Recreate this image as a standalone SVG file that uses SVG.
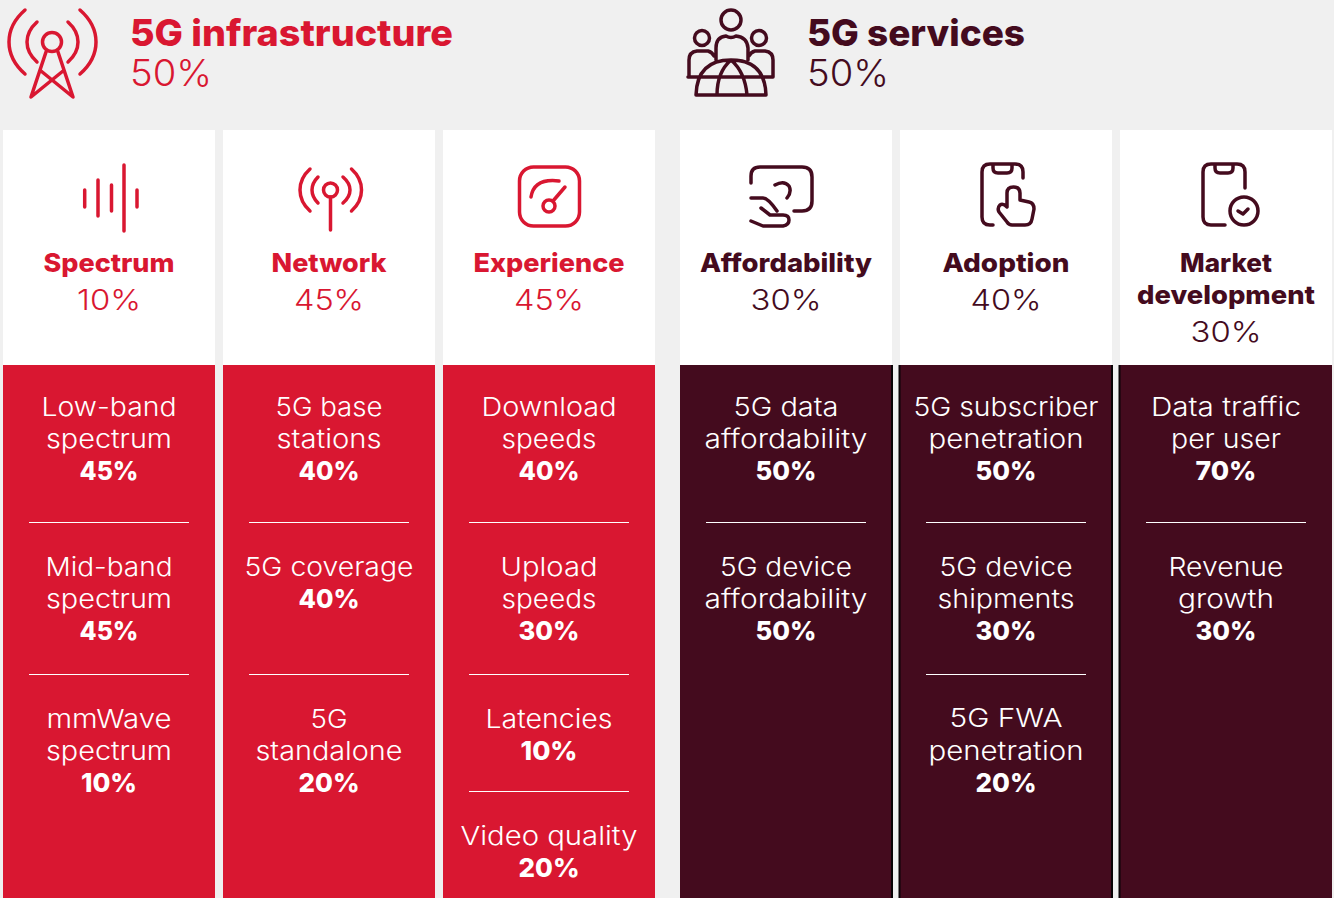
<svg xmlns="http://www.w3.org/2000/svg" width="1334" height="898" viewBox="0 0 1334 898">
<style>
text{font-family:"Inter","Liberation Sans",sans-serif;text-anchor:middle;font-size:26px;font-weight:300}
.b{font-weight:700}
.x{font-weight:800}
.r{fill:#D91731}.d{fill:#440B1E}.w{fill:#fff}
.head{font-size:37px;text-anchor:start}
.title{font-weight:800}
.pct{font-weight:300}
.p{font-size:29px;font-weight:300}
.ir{fill:none;stroke:#D91731;stroke-width:3.5;stroke-linecap:round;stroke-linejoin:round}
.id{fill:none;stroke:#440B1E;stroke-width:3.5;stroke-linecap:round;stroke-linejoin:round}
.rule{stroke:#fff;stroke-width:1}
.edge{fill:#0a0306}
</style>
<rect width="1334" height="898" fill="#F0F0F0"/>

<g id="infrastructure-header">
<path class="ir" d="M25 10Q9 24 9 42T25 74M80 10Q96 24 96 42T80 74M37 22Q27 31 27 42T37 62M68 22Q78 31 78 42T68 62M46 52L31 97L63 71M58 52L73 97L41 71"/>
<circle class="ir" cx="52" cy="42" r="9.5"/>
<text class="head r"><tspan class="title" x="130" y="46" textLength="323" lengthAdjust="spacingAndGlyphs">5G infrastructure</tspan><tspan class="pct" x="130" y="86" textLength="82" lengthAdjust="spacingAndGlyphs">50%</tspan></text>
</g>

<g id="services-header">
<circle class="id" cx="731" cy="20" r="10"/><circle class="id" cx="702" cy="38" r="7.5"/><circle class="id" cx="759" cy="38" r="7.5"/>
<path class="id" d="M716 60V48Q716 37 726 36Q731 39 736 36Q747 37 748 48V60M689 77V60Q689 52 697 51H708Q712 52 714 56M773 77V60Q773 52 765 51H755Q751 52 749 56M688 77H773M696 95Q697 60 731 60Q765 60 766 95ZM717 95Q717 72 731 60Q745 72 747 95"/>
<text class="head d"><tspan class="title" x="807" y="46" textLength="218" lengthAdjust="spacingAndGlyphs">5G services</tspan><tspan class="pct" x="807" y="86" textLength="82" lengthAdjust="spacingAndGlyphs">50%</tspan></text>
</g>

<g id="spectrum">
<rect class="w" x="3" y="130" width="212" height="235"/><rect class="r" x="3" y="365" width="212" height="533"/>
<path class="ir" d="M84.700 190V207M98 180V216M111.500 185V211M124 165V231M137 190V207"/>
<text class="x r" x="109" y="272" textLength="131" lengthAdjust="spacingAndGlyphs">Spectrum</text>
<text class="p r" x="109" y="310" textLength="64" lengthAdjust="spacingAndGlyphs">10%</text>
<text class="w" x="109" y="416" textLength="135" lengthAdjust="spacingAndGlyphs">Low-band</text>
<text class="w" x="109" y="448" textLength="126" lengthAdjust="spacingAndGlyphs">spectrum</text>
<text class="w x" x="109" y="480" textLength="59" lengthAdjust="spacingAndGlyphs">45%</text>
<line class="rule" x1="29" x2="189" y1="522.500" y2="522.500"/>
<text class="w" x="109" y="576" textLength="127" lengthAdjust="spacingAndGlyphs">Mid-band</text>
<text class="w" x="109" y="608" textLength="126" lengthAdjust="spacingAndGlyphs">spectrum</text>
<text class="w x" x="109" y="640" textLength="59" lengthAdjust="spacingAndGlyphs">45%</text>
<line class="rule" x1="29" x2="189" y1="674.500" y2="674.500"/>
<text class="w" x="109" y="728" textLength="125" lengthAdjust="spacingAndGlyphs">mmWave</text>
<text class="w" x="109" y="760" textLength="126" lengthAdjust="spacingAndGlyphs">spectrum</text>
<text class="w x" x="109" y="792" textLength="56" lengthAdjust="spacingAndGlyphs">10%</text>
</g>

<g id="network">
<rect class="w" x="223" y="130" width="212" height="235"/><rect class="r" x="223" y="365" width="212" height="533"/>
<circle class="ir" cx="330.500" cy="190" r="7"/>
<path class="ir" d="M330.500 197V230M318 177Q312 183 312 190T318 203M343 177Q350 183 350 190T343 203M310 169Q300 178 300 190T310 211M351.500 169Q361.500 178 361.500 190T351.500 211"/>
<text class="x r" x="329" y="272" textLength="115" lengthAdjust="spacingAndGlyphs">Network</text>
<text class="p r" x="329" y="310" textLength="70" lengthAdjust="spacingAndGlyphs">45%</text>
<text class="w" x="329" y="416" textLength="107" lengthAdjust="spacingAndGlyphs">5G base</text>
<text class="w" x="329" y="448" textLength="105" lengthAdjust="spacingAndGlyphs">stations</text>
<text class="w x" x="329" y="480" textLength="61" lengthAdjust="spacingAndGlyphs">40%</text>
<line class="rule" x1="249" x2="409" y1="522.500" y2="522.500"/>
<text class="w" x="329" y="576" textLength="169" lengthAdjust="spacingAndGlyphs">5G coverage</text>
<text class="w x" x="329" y="608" textLength="61" lengthAdjust="spacingAndGlyphs">40%</text>
<line class="rule" x1="249" x2="409" y1="674.500" y2="674.500"/>
<text class="w" x="329" y="728" textLength="37" lengthAdjust="spacingAndGlyphs">5G</text>
<text class="w" x="329" y="760" textLength="147" lengthAdjust="spacingAndGlyphs">standalone</text>
<text class="w x" x="329" y="792" textLength="61" lengthAdjust="spacingAndGlyphs">20%</text>
</g>

<g id="experience">
<rect class="w" x="443" y="130" width="212" height="235"/><rect class="r" x="443" y="365" width="212" height="533"/>
<rect class="ir" x="519.500" y="167" width="60" height="59" rx="14"/>
<circle class="ir" cx="549" cy="206" r="6"/>
<path class="ir" d="M553 201L565 187M531 197Q534 178 559 181"/>
<text class="x r" x="549" y="272" textLength="151" lengthAdjust="spacingAndGlyphs">Experience</text>
<text class="p r" x="549" y="310" textLength="70" lengthAdjust="spacingAndGlyphs">45%</text>
<text class="w" x="549" y="416" textLength="135" lengthAdjust="spacingAndGlyphs">Download</text>
<text class="w" x="549" y="448" textLength="95" lengthAdjust="spacingAndGlyphs">speeds</text>
<text class="w x" x="549" y="480" textLength="61" lengthAdjust="spacingAndGlyphs">40%</text>
<line class="rule" x1="469" x2="629" y1="522.500" y2="522.500"/>
<text class="w" x="549" y="576" textLength="97" lengthAdjust="spacingAndGlyphs">Upload</text>
<text class="w" x="549" y="608" textLength="95" lengthAdjust="spacingAndGlyphs">speeds</text>
<text class="w x" x="549" y="640" textLength="61" lengthAdjust="spacingAndGlyphs">30%</text>
<line class="rule" x1="469" x2="629" y1="674.500" y2="674.500"/>
<text class="w" x="549" y="728" textLength="127" lengthAdjust="spacingAndGlyphs">Latencies</text>
<text class="w x" x="549" y="760" textLength="57" lengthAdjust="spacingAndGlyphs">10%</text>
<line class="rule" x1="469" x2="629" y1="791.500" y2="791.500"/>
<text class="w" x="549" y="845" textLength="177" lengthAdjust="spacingAndGlyphs">Video quality</text>
<text class="w x" x="549" y="877" textLength="61" lengthAdjust="spacingAndGlyphs">20%</text>
</g>

<g id="affordability">
<rect class="w" x="680" y="130" width="212" height="235"/><rect class="d" x="680" y="365" width="212" height="533"/><rect class="edge" x="891" y="365" width="2" height="533"/>
<path class="id" d="M751 183V176Q751 167 760 167H802Q812 167 812 177V201Q812 211 802 211H794M775 185Q784 180 789 186Q792 192 787 198M751 198H763Q768 198 777 211M761 208L770 215H783Q789 215 789 220T783 226H763L751 221"/>
<text class="x d" x="786" y="272" textLength="172" lengthAdjust="spacingAndGlyphs">Affordability</text>
<text class="p d" x="786" y="310" textLength="71" lengthAdjust="spacingAndGlyphs">30%</text>
<text class="w" x="786" y="416" textLength="105" lengthAdjust="spacingAndGlyphs">5G data</text>
<text class="w" x="786" y="448" textLength="163" lengthAdjust="spacingAndGlyphs">affordability</text>
<text class="w x" x="786" y="480" textLength="61" lengthAdjust="spacingAndGlyphs">50%</text>
<line class="rule" x1="706" x2="866" y1="522.500" y2="522.500"/>
<text class="w" x="786" y="576" textLength="132" lengthAdjust="spacingAndGlyphs">5G device</text>
<text class="w" x="786" y="608" textLength="163" lengthAdjust="spacingAndGlyphs">affordability</text>
<text class="w x" x="786" y="640" textLength="61" lengthAdjust="spacingAndGlyphs">50%</text>
</g>

<g id="adoption">
<rect class="w" x="900" y="130" width="212" height="235"/><rect class="d" x="899" y="365" width="213" height="533"/><rect class="edge" x="898.500" y="365" width="2" height="533"/><rect class="edge" x="1111" y="365" width="2" height="533"/>
<path class="id" d="M993 225H990Q982 225 982 217V172Q982 164 990 164H1015Q1023 164 1023 172V178M993 164V168Q993 173 998 173H1007Q1012 173 1012 168V164M1007 207V193Q1007 187 1013.500 187Q1020 187 1020 193V200L1029 202Q1034 203 1034 209L1032 219Q1031 225 1025 225H1012Q1009 225 1007 222L999 212Q997 208 1000 205Q1003 203 1007 207"/>
<text class="x d" x="1006" y="272" textLength="127" lengthAdjust="spacingAndGlyphs">Adoption</text>
<text class="p d" x="1006" y="310" textLength="71" lengthAdjust="spacingAndGlyphs">40%</text>
<text class="w" x="1006" y="416" textLength="185" lengthAdjust="spacingAndGlyphs">5G subscriber</text>
<text class="w" x="1006" y="448" textLength="155" lengthAdjust="spacingAndGlyphs">penetration</text>
<text class="w x" x="1006" y="480" textLength="61" lengthAdjust="spacingAndGlyphs">50%</text>
<line class="rule" x1="926" x2="1086" y1="522.500" y2="522.500"/>
<text class="w" x="1006" y="576" textLength="133" lengthAdjust="spacingAndGlyphs">5G device</text>
<text class="w" x="1006" y="608" textLength="137" lengthAdjust="spacingAndGlyphs">shipments</text>
<text class="w x" x="1006" y="640" textLength="61" lengthAdjust="spacingAndGlyphs">30%</text>
<line class="rule" x1="926" x2="1086" y1="674.500" y2="674.500"/>
<text class="w" x="1006" y="727" textLength="113" lengthAdjust="spacingAndGlyphs">5G FWA</text>
<text class="w" x="1006" y="760" textLength="155" lengthAdjust="spacingAndGlyphs">penetration</text>
<text class="w x" x="1006" y="792" textLength="61" lengthAdjust="spacingAndGlyphs">20%</text>
</g>

<g id="market-development">
<rect class="w" x="1120" y="130" width="212" height="235"/><rect class="d" x="1119" y="365" width="213" height="533"/><rect class="edge" x="1118.500" y="365" width="2" height="533"/>
<path class="id" d="M1225 225H1211Q1203 225 1203 217V172Q1203 164 1211 164H1237Q1245 164 1245 172V188M1215 164V168Q1215 173 1220 173H1228Q1233 173 1233 168V164M1238 211L1243 214L1248 209"/>
<circle class="id" cx="1244" cy="211" r="14"/>
<text class="x d" x="1226" y="272" textLength="92" lengthAdjust="spacingAndGlyphs">Market</text>
<text class="x d" x="1226" y="304" textLength="178" lengthAdjust="spacingAndGlyphs">development</text>
<text class="p d" x="1226" y="342" textLength="71" lengthAdjust="spacingAndGlyphs">30%</text>
<text class="w" x="1226" y="416" textLength="150" lengthAdjust="spacingAndGlyphs">Data traffic</text>
<text class="w" x="1226" y="448" textLength="110" lengthAdjust="spacingAndGlyphs">per user</text>
<text class="w x" x="1226" y="480" textLength="61" lengthAdjust="spacingAndGlyphs">70%</text>
<line class="rule" x1="1146" x2="1306" y1="522.500" y2="522.500"/>
<text class="w" x="1226" y="576" textLength="115" lengthAdjust="spacingAndGlyphs">Revenue</text>
<text class="w" x="1226" y="608" textLength="96" lengthAdjust="spacingAndGlyphs">growth</text>
<text class="w x" x="1226" y="640" textLength="61" lengthAdjust="spacingAndGlyphs">30%</text>
</g>
</svg>
